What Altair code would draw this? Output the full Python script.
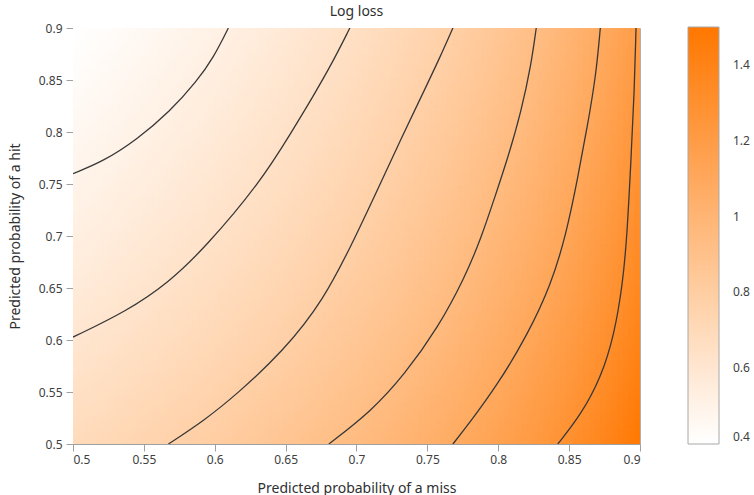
import altair as alt
import numpy as np
import pandas as pd

# ---- axis / colour-bar values -------------------------------------------
x_ticks = [0.5, 0.55, 0.6, 0.65, 0.7, 0.75, 0.8, 0.85, 0.9]
y_ticks = [0.5, 0.55, 0.6, 0.65, 0.7, 0.75, 0.8, 0.85, 0.9]
legend_ticks = [0.4, 0.6, 0.8, 1.0, 1.2, 1.4]
color_domain = [0.4, 1.5]

# ---- heat-map grid (log loss of the two predicted probabilities) --------
miss_edges = np.linspace(0.5, 0.9, 101)
hit_edges = np.linspace(0.5, 0.9, 101)
cell_overlap = 0.0015

# ---- contour lines ------------------------------------------------------
contour_A_miss = [0.5, 0.5216, 0.5451, 0.5685, 0.5873, 0.5990, 0.6096]
contour_A_hit = [0.760, 0.7719, 0.7927, 0.8199, 0.8487, 0.8712, 0.9]
contour_B_miss = [0.5, 0.538, 0.5673, 0.5931, 0.6319, 0.6545, 0.6694, 0.6835, 0.6953]
contour_B_hit = [0.6028, 0.6278, 0.655, 0.6887, 0.7511, 0.8007, 0.8343, 0.8679, 0.9]
contour_C_miss = [0.5673, 0.5920, 0.6155, 0.6483, 0.6765, 0.6990, 0.7176, 0.7317, 0.7458, 0.7587, 0.7680]
contour_C_hit = [0.5, 0.5221, 0.5477, 0.5893, 0.6374, 0.6983, 0.7526, 0.7943, 0.8343, 0.8712, 0.9]
contour_D_miss = [0.6805, 0.7106, 0.7340, 0.7575, 0.7763, 0.7880, 0.7974, 0.8068, 0.8162, 0.8232, 0.8268]
contour_D_hit = [0.5, 0.5317, 0.5670, 0.6118, 0.6598, 0.6983, 0.7367, 0.7751, 0.8199, 0.8647, 0.9]
contour_E_miss = [0.7680, 0.7790, 0.7997, 0.8208, 0.8373, 0.8479, 0.8561, 0.8631, 0.8690, 0.8720]
contour_E_hit = [0.5, 0.5189, 0.5573, 0.6054, 0.6534, 0.7014, 0.7559, 0.8071, 0.8551, 0.9]
contour_F_miss = [0.8420, 0.8585, 0.8725, 0.8819, 0.8877, 0.8908, 0.8937, 0.8960, 0.8972]
contour_F_hit = [0.5, 0.5285, 0.5638, 0.6054, 0.6534, 0.6983, 0.7751, 0.8391, 0.9]

# ---- tables --------------------------------------------------------------
rows = []
for i in range(len(miss_edges) - 1):
    xc = (miss_edges[i] + miss_edges[i + 1]) / 2
    for j in range(len(hit_edges) - 1):
        yc = (hit_edges[j] + hit_edges[j + 1]) / 2
        rows.append({
            "x0": miss_edges[i], "x1": miss_edges[i + 1] + cell_overlap,
            "y0": hit_edges[j], "y1": hit_edges[j + 1] + cell_overlap,
            "loss": -(np.log(1 - xc) + np.log(yc)) / 2,
        })
heat_df = pd.DataFrame(rows)

contours = {
    "A": (contour_A_miss, contour_A_hit),
    "B": (contour_B_miss, contour_B_hit),
    "C": (contour_C_miss, contour_C_hit),
    "D": (contour_D_miss, contour_D_hit),
    "E": (contour_E_miss, contour_E_hit),
    "F": (contour_F_miss, contour_F_hit),
}
line_rows = []
for name, (xs, ys) in contours.items():
    for k, (xv, yv) in enumerate(zip(xs, ys)):
        line_rows.append({"line": name, "order": k, "miss": xv, "hit": yv})
line_df = pd.DataFrame(line_rows)

FONT = "Noto Sans"
x_scale = alt.Scale(domain=[0.5, 0.9], nice=False, zero=False)
y_scale = alt.Scale(domain=[0.5, 0.9], nice=False, zero=False)
c_scale = alt.Scale(domain=color_domain, range=["#ffffff", "#ff7700"], type="linear",
                    interpolate="rgb")

x_axis = alt.Axis(values=x_ticks, format="~g", title="Predicted probability of a miss",
                  tickSize=7, labelPadding=3, titlePadding=16, grid=False,
                  labelFontSize=12, titleFontSize=14, titleFontWeight="normal",
                  labelFont=FONT, titleFont=FONT, labelColor="#404040",
                  titleColor="#303030", domainColor="#a0a0a0", tickColor="#a0a0a0")
y_axis = alt.Axis(values=y_ticks, format="~g", title="Predicted probability of a hit",
                  tickSize=7, labelPadding=4, titlePadding=16, grid=False,
                  labelFontSize=12, titleFontSize=14, titleFontWeight="normal",
                  labelFont=FONT, titleFont=FONT, labelColor="#404040",
                  titleColor="#303030", domainColor="#a0a0a0", tickColor="#a0a0a0")

heat = alt.Chart(heat_df).mark_rect(clip=True).encode(
    x=alt.X("x0:Q", scale=x_scale, axis=x_axis),
    x2="x1:Q",
    y=alt.Y("y0:Q", scale=y_scale, axis=y_axis),
    y2="y1:Q",
    color=alt.Color("loss:Q", scale=c_scale,
                    legend=alt.Legend(type="gradient", orient="none", legendX=615, legendY=-1,
                                      direction="vertical", gradientLength=417,
                                      gradientThickness=31, values=legend_ticks,
                                      format="~g", title=None, labelBaseline="middle",
                                      labelOffset=14, labelFontSize=12,
                                      labelColor="#404040", labelFont=FONT,
                                      gradientStrokeColor="#a8a8a8",
                                      gradientStrokeWidth=1, padding=0)),
)

lines = alt.Chart(line_df).mark_line(color="#383838", strokeWidth=1.3,
                                     interpolate="basis", clip=True).encode(
    x=alt.X("miss:Q", scale=x_scale),
    y=alt.Y("hit:Q", scale=y_scale),
    detail="line:N",
    order="order:Q",
)

chart = alt.layer(heat, lines).properties(
    width=567,
    height=416,
    autosize=alt.AutoSizeParams(type="none"),
    padding={"left": 73, "top": 28, "right": 114, "bottom": 51},
    background="white",
    title=alt.TitleParams("Log loss", fontSize=14, fontWeight="normal", font=FONT,
                          color="#303030", offset=3),
).configure_view(
    stroke="#b0b0b0", strokeWidth=1
)

chart.save("out.html", embed_options={"renderer": "svg", "actions": False})
